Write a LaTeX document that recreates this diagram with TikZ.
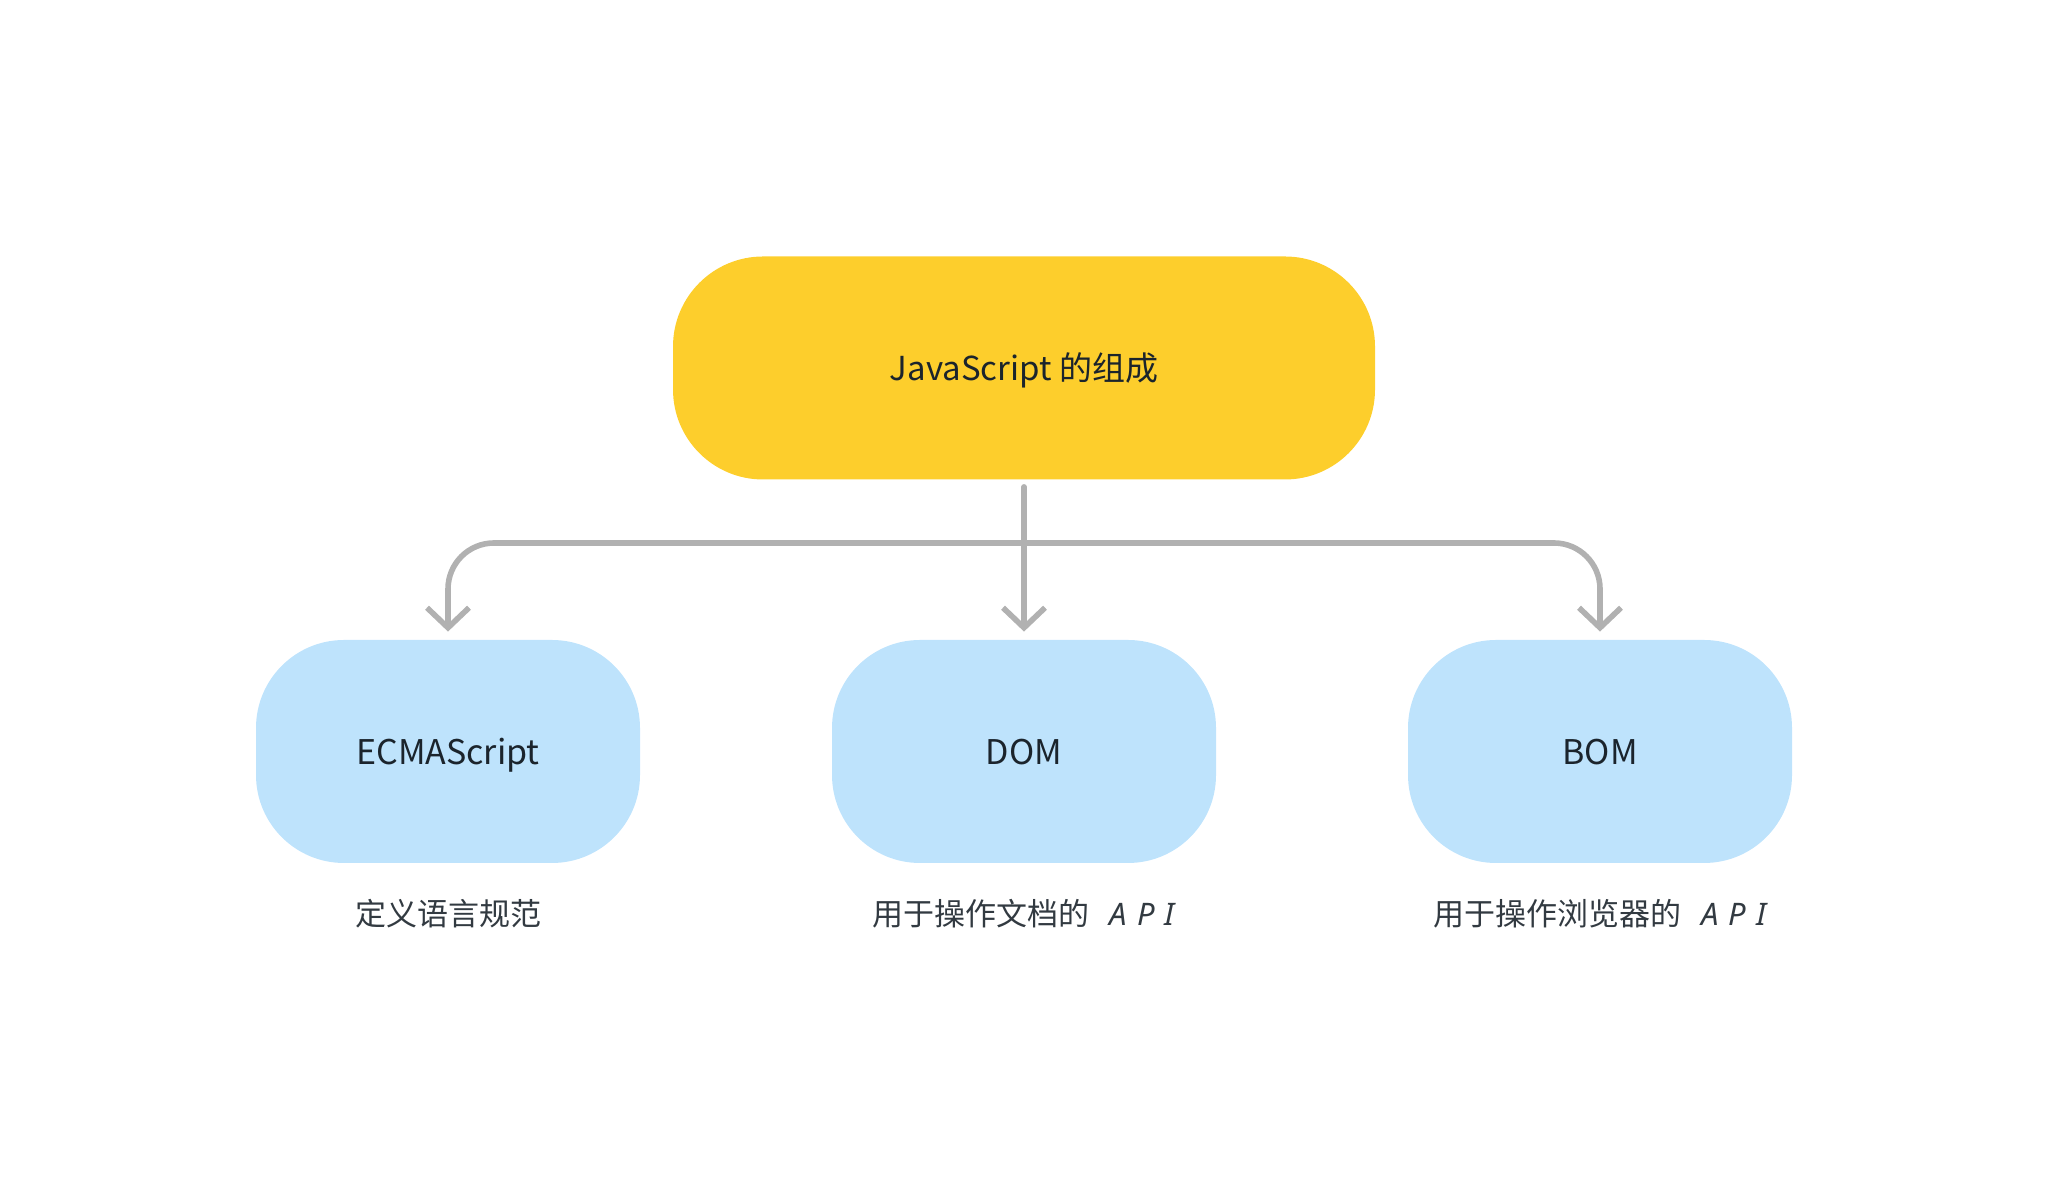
\documentclass[tikz,border=0pt]{standalone}
\usepackage{fontspec}
\setmainfont{Noto Sans CJK SC}
\newfontfamily\apifont{Noto Sans}
\usetikzlibrary{arrows.meta}

\definecolor{jsyellow}{HTML}{FDCE2C}
\definecolor{partblue}{HTML}{BEE3FC}
\definecolor{linkgray}{HTML}{B1B1B1}
\definecolor{inkdark}{HTML}{1B242C}

\tikzset{
  part/.style={fill=partblue, rounded corners=44pt, minimum width=192pt,
    minimum height=111.5pt, text=inkdark, text height=13pt, text depth=0pt,
    font=\fontsize{17}{20}\selectfont},
  note/.style={text=inkdark!90, font=\fontsize{15.5}{19}\selectfont},
  link/.style={draw=linkgray, line width=2.8pt, line cap=round,
    -{Straight Barb[length=10pt,width=21pt,line width=2.8pt]}},
}
\newcommand{\api}{{\apifont\itshape A\hspace{5pt}P\hspace{5pt}I}}

\begin{document}
\begin{tikzpicture}[x=0.5pt,y=0.5pt]
\path[use as bounding box] (0,0) rectangle (2048,1186);
% top box
\node[fill=jsyellow, rounded corners=45pt, minimum width=351pt, minimum height=111.5pt,
  text=inkdark, text height=13pt, text depth=0pt,
  font=\fontsize{16.5}{20}\selectfont] (js) at (1024,818) {JavaScript 的组成};
% three parts
\node[part] (ecma) at (448,434.5) {ECMAScript};
\node[part] (dom) at (1024,434.5) {DOM};
\node[part] (bom) at (1600,434.5) {BOM};
\node[note] (ecmanote) at (448,272) {定义语言规范};
\node[note] (domnote) at (1024,272) {用于操作文档的\hspace{10pt}\api};
\node[note] (bomnote) at (1600,272) {用于操作浏览器的\hspace{10pt}\api};
% connectors
\coordinate (bus) at (1024,643);
\draw[link, shorten <=3.5pt, shorten >=4pt] (js) -- (dom);
\draw[link, rounded corners=23pt, shorten >=4pt] (bus) -| (ecma.north);
\draw[link, rounded corners=23pt, shorten >=4pt] (bus) -| (bom.north);
\end{tikzpicture}
\end{document}
